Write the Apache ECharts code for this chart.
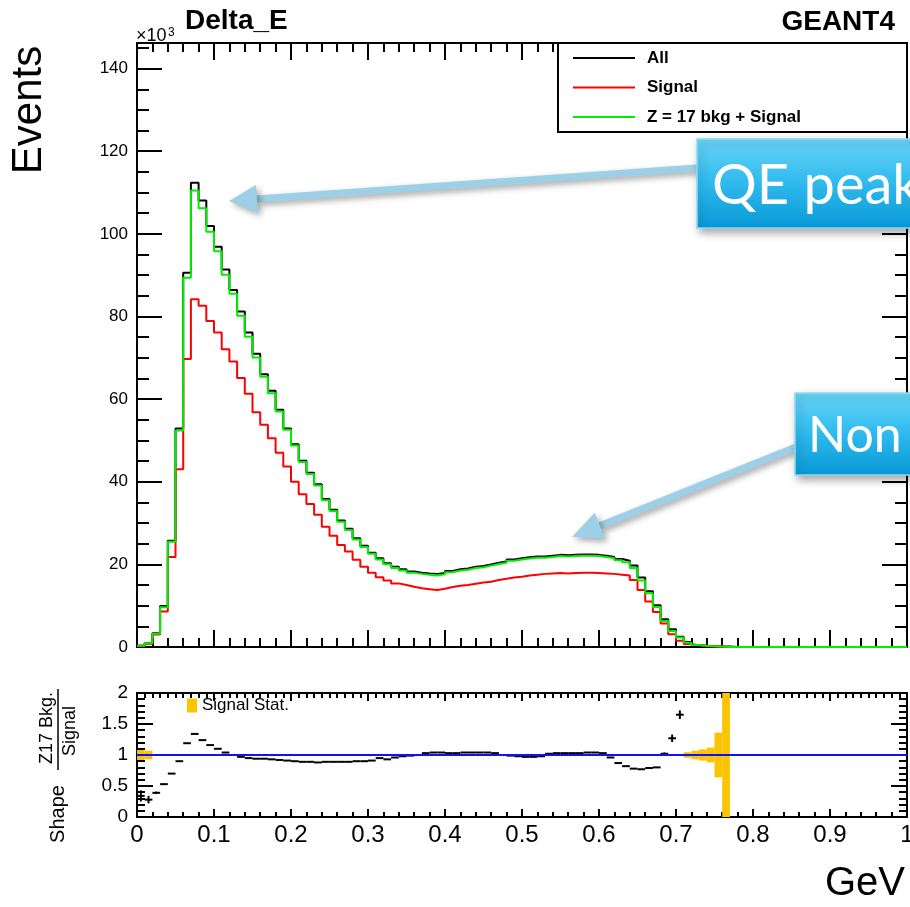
<!DOCTYPE html>
<html>
<head>
<meta charset="utf-8">
<script src="https://cdn.jsdelivr.net/npm/echarts@6/dist/echarts.min.js"></script>
<style>
    html, body {margin: 0; padding: 0; background: #fff;}
    #chart {width: 910px; height: 907px;}
</style>
</head>
<body>
<div id="chart"></div>
<script>
// Delta_E 直方图: 100 个 bin, 宽 0.01 GeV, 单位 10^3 events
const binWidth = 0.01;
const allEvents = [
    0.3, 0.9, 3.3, 9.9, 25.7, 52.9, 90.6, 112.4, 108.1, 101.9,
    96.9, 91.4, 86.4, 81.2, 76.1, 71.0, 66.0, 62.0, 57.4, 52.9,
    49.1, 45.1, 42.2, 39.4, 35.8, 33.2, 30.6, 28.6, 26.3, 24.5,
    22.8, 21.5, 20.3, 19.4, 18.8, 18.3, 18.0, 17.8, 17.7, 17.9,
    18.4, 18.8, 19.0, 19.4, 19.6, 20.0, 20.4, 20.7, 21.2, 21.5,
    21.7, 21.9, 21.9, 22.1, 22.3, 22.2, 22.3, 22.4, 22.4, 22.3,
    22.1, 21.8, 21.3, 20.9, 19.7, 16.8, 13.5, 10.1, 6.7, 4.3,
    2.5, 1.2, 0.5, 0.3, 0.2, 0.1, 0.1, 0, 0, 0,
    0, 0, 0, 0, 0, 0, 0, 0, 0, 0,
    0, 0, 0, 0, 0, 0, 0, 0, 0, 0
];
const signalEvents = [
    0.3, 0.8, 3.0, 8.6, 21.8, 43.0, 69.7, 84.2, 82.6, 78.9,
    76.1, 72.1, 69.1, 65.1, 61.3, 56.8, 53.8, 50.5, 47.0, 43.7,
    40.0, 37.0, 34.6, 32.0, 29.1, 26.9, 24.7, 23.1, 21.1, 19.4,
    18.0, 16.9, 16.1, 15.4, 15.0, 14.6, 14.2, 14.0, 13.8, 14.1,
    14.5, 14.8, 15.0, 15.3, 15.6, 15.8, 16.2, 16.5, 16.8, 17.0,
    17.3, 17.5, 17.7, 17.8, 17.9, 17.8, 17.9, 18.0, 18.0, 17.9,
    17.8, 17.7, 17.5, 17.3, 16.2, 13.8, 11.0, 8.5, 5.7, 3.1,
    1.5, 0.7, 0.4, 0.2, 0.1, 0, 0, 0, 0, 0,
    0, 0, 0, 0, 0, 0, 0, 0, 0, 0,
    0, 0, 0, 0, 0, 0, 0, 0, 0, 0
];
const z17PlusSignal = [
    0.3, 0.9, 3.2, 9.6, 25.5, 52.4, 89.4, 110.5, 106.2, 100.5,
    95.8, 90.1, 85.5, 80.2, 75.1, 70.1, 65.4, 61.4, 57.0, 52.6,
    48.8, 44.8, 41.9, 39.1, 35.5, 32.9, 30.3, 28.3, 26.0, 24.2,
    22.6, 21.2, 20.0, 19.1, 18.5, 18.0, 17.7, 17.5, 17.3, 17.6,
    18.1, 18.5, 18.7, 19.1, 19.3, 19.7, 20.1, 20.4, 20.9, 21.2,
    21.4, 21.6, 21.6, 21.8, 22.0, 21.9, 22.0, 22.1, 22.1, 22.0,
    21.8, 21.5, 21.0, 20.5, 19.1, 16.1, 13.0, 9.7, 6.3, 3.9,
    2.3, 1.0, 0.5, 0.3, 0.2, 0.1, 0, 0, 0, 0,
    0, 0, 0, 0, 0, 0, 0, 0, 0, 0,
    0, 0, 0, 0, 0, 0, 0, 0, 0, 0
];
// 下方面板: Shape Z17 Bkg./Signal (bin 0-70)
const shapeRatio = [
    0.34, 0.28, 0.39, 0.53, 0.70, 0.90, 1.19, 1.34, 1.24, 1.16,
    1.10, 1.04, 1.00, 0.97, 0.95, 0.94, 0.94, 0.93, 0.92, 0.91,
    0.90, 0.89, 0.89, 0.88, 0.89, 0.89, 0.89, 0.89, 0.90, 0.90,
    0.91, 0.95, 0.93, 0.96, 0.98, 0.99, 1.00, 1.03, 1.04, 1.04,
    1.03, 1.03, 1.04, 1.04, 1.04, 1.04, 1.03, 1.00, 0.99, 0.98,
    0.97, 0.97, 0.98, 1.02, 1.03, 1.03, 1.03, 1.03, 1.04, 1.04,
    1.03, 0.96, 0.87, 0.82, 0.78, 0.77, 0.79, 0.80, 1.02, 1.27,
    1.65
];
const shapeRatioErr = [
    0.09, 0.06, 0.02, 0, 0, 0, 0, 0, 0, 0,
    0, 0, 0, 0, 0, 0, 0, 0, 0, 0,
    0, 0, 0, 0, 0, 0, 0, 0, 0, 0,
    0, 0, 0, 0, 0, 0, 0, 0, 0, 0,
    0, 0, 0, 0, 0, 0, 0, 0, 0, 0,
    0, 0, 0, 0, 0, 0, 0, 0, 0, 0,
    0, 0, 0, 0, 0, 0, 0, 0, 0.02, 0.06,
    0.07
];
// Signal Stat. 相对误差 (围绕 1 的黄色带)
const signalStatErr = [
    0.08, 0.07, 0.01, 0.01, 0.005, 0.005, 0.005, 0.005, 0.005, 0.005,
    0.005, 0.005, 0.005, 0.005, 0.005, 0.005, 0.005, 0.005, 0.005, 0.005,
    0.005, 0.005, 0.005, 0.005, 0.005, 0.005, 0.005, 0.005, 0.005, 0.005,
    0.005, 0.005, 0.005, 0.005, 0.005, 0.005, 0.005, 0.005, 0.005, 0.005,
    0.005, 0.005, 0.005, 0.005, 0.005, 0.005, 0.005, 0.005, 0.005, 0.005,
    0.005, 0.005, 0.005, 0.005, 0.005, 0.005, 0.005, 0.005, 0.005, 0.005,
    0.005, 0.005, 0.005, 0.005, 0.005, 0.005, 0.005, 0.005, 0.005, 0.005,
    0.015, 0.045, 0.07, 0.09, 0.12, 0.36, 1.5, 0, 0, 0,
    0, 0, 0, 0, 0, 0, 0, 0, 0, 0,
    0, 0, 0, 0, 0, 0, 0, 0, 0, 0
];
const refLine = [[0, 1], [1, 1]];
const mainYMax = 146.2;

const FONT = '"Liberation Sans", Arial, Helvetica, sans-serif';
const binLow = allEvents.map((_, i) => +(i * binWidth).toFixed(2));

//直方图阶梯数据: bin 下沿 + 最后一个 bin 的上沿
const stepData = vals => vals.map((v, i) => [binLow[i], v]).concat([[1, vals[vals.length - 1]]]);

const chart = echarts.init(document.getElementById('chart'));

const tickStyle = {color: '#000', width: 2};
const hidden = {show: false};
const noLine = {show: false, onZero: false};

const mainX = (position) => ({
    type: 'value', gridIndex: 0, position, min: 0, max: 1, interval: 0.1,
    axisLine: noLine, splitLine: hidden, axisLabel: hidden,
    axisTick: {show: true, inside: true, length: 17, lineStyle: tickStyle},
    minorTick: {show: true, splitNumber: 5, length: 9, lineStyle: tickStyle}
});
const lowerX = (position, split, labels) => ({
    type: 'value', gridIndex: 1, position, min: 0, max: 1, interval: 0.1,
    axisLine: noLine, splitLine: hidden,
    axisLabel: labels ? {show: true, fontSize: 24, color: '#000', fontFamily: FONT, margin: 6,
        formatter: v => (v === 0 || v === 1) ? String(v) : v.toFixed(1)} : hidden,
    axisTick: {show: true, inside: true, length: 8, lineStyle: tickStyle},
    minorTick: {show: true, splitNumber: split, length: 5, lineStyle: tickStyle}
});
const mainY = (position, interval, len, labels) => ({
    type: 'value', gridIndex: 0, position, min: 0, max: mainYMax, interval,
    axisLine: noLine, splitLine: hidden,
    axisLabel: labels ? {show: true, fontSize: 17, color: '#000', fontFamily: FONT, margin: 9,
        formatter: v => v % 20 === 0 ? String(v) : ''} : hidden,
    axisTick: {show: true, inside: true, length: len, lineStyle: tickStyle}
});
const lowerY = (position, labels) => ({
    type: 'value', gridIndex: 1, position, min: 0, max: 2, interval: 0.5,
    axisLine: noLine, splitLine: hidden,
    axisLabel: labels ? {show: true, fontSize: 19, color: '#000', fontFamily: FONT, margin: 9} : hidden,
    axisTick: {show: true, inside: true, length: 16, lineStyle: tickStyle},
    minorTick: {show: true, splitNumber: 5, length: 8, lineStyle: tickStyle}
});

const histSeries = (name, vals, color) => ({
    name, type: 'line', step: 'end', xAxisIndex: 0, yAxisIndex: 0,
    data: stepData(vals), showSymbol: false, symbol: 'none', color,
    lineStyle: {color, width: 2}, silent: true
});

//箭头 (注释)
const arrow = (tail, tip, headLen, headHalf) => {
    const dx = tip[0] - tail[0], dy = tip[1] - tail[1];
    const len = Math.sqrt(dx * dx + dy * dy);
    const ux = dx / len, uy = dy / len;
    const bx = tip[0] - ux * headLen, by = tip[1] - uy * headLen;
    const shadow = {shadowBlur: 6, shadowColor: 'rgba(0,0,0,0.35)', shadowOffsetX: 3, shadowOffsetY: 3};
    return [
        {type: 'line', z: 20, shape: {x1: tail[0], y1: tail[1], x2: bx, y2: by},
            style: {stroke: '#9dd0e6', lineWidth: 7, ...shadow}},
        {type: 'polygon', z: 20, shape: {points: [tip, [bx - uy * headHalf, by + ux * headHalf], [bx + uy * headHalf, by - ux * headHalf]]},
            style: {fill: '#9dd0e6', ...shadow}}
    ];
};
const calloutBox = (x, y, w, h, text, tx, size) => [
    {type: 'rect', z: 21, shape: {x, y, width: w, height: h},
        style: {
            fill: new echarts.graphic.LinearGradient(0, 0, 0, 1, [
                {offset: 0, color: '#6ad5f7'}, {offset: 0.45, color: '#33bcef'}, {offset: 1, color: '#0799d6'}
            ]),
            stroke: '#8fd9f3', lineWidth: 1.5,
            shadowBlur: 8, shadowColor: 'rgba(0,0,0,0.35)', shadowOffsetX: 3, shadowOffsetY: 4
        }},
    {type: 'text', z: 22, x: tx, y: y + h / 2 + 2,
        style: {text, fill: '#fff', fontSize: size, fontFamily: 'Lato, "Open Sans", sans-serif',
            align: 'left', verticalAlign: 'middle', textAlign: 'left', textVerticalAlign: 'middle'}}
];
// y 为基线 (非旋转) 或中心 (旋转)
const txt = (x, y, text, size, opts = {}) => ({
    type: 'text', z: 30, x, y: opts.rotation ? y : y - 0.35 * size, rotation: opts.rotation || 0,
    style: {text, fill: '#000', fontSize: size, fontFamily: FONT, fontWeight: opts.bold ? 'bold' : 'normal',
        align: opts.align || 'left', verticalAlign: 'middle',
        textAlign: opts.align || 'left', textVerticalAlign: 'middle'}
});

const gridBase = {left: 137, right: 3, show: true, borderColor: '#000', borderWidth: 2,
    backgroundColor: 'transparent', containLabel: false, outerBoundsMode: 'none'};

const option = {
    animation: false,
    backgroundColor: '#fff',
    grid: [
        {...gridBase, top: 43, height: 604},
        {...gridBase, top: 693, height: 124}
    ],
    xAxis: [mainX('bottom'), mainX('top'), lowerX('bottom', 5, true), lowerX('top', 10, false)],
    yAxis: [
        mainY('left', 20, 25, true), mainY('left', 5, 12, false),
        mainY('right', 20, 25, false), mainY('right', 5, 12, false),
        lowerY('left', true), lowerY('right', false)
    ],
    legend: [
        {
            data: ['All', 'Signal', 'Z = 17 bkg + Signal'], orient: 'vertical', left: 573, top: 49, padding: 0,
            itemWidth: 62, itemHeight: 2, itemGap: 11.5, icon: 'rect', selectedMode: false, z: 31,
            textStyle: {fontSize: 17, fontWeight: 'bold', color: '#000', fontFamily: FONT, lineHeight: 18, padding: [0, 0, 0, 7]}
        },
        {
            data: ['Signal Stat.'], left: 187, top: 697, padding: 0, itemWidth: 10, itemHeight: 14, icon: 'rect',
            selectedMode: false, textStyle: {fontSize: 17, color: '#000', fontFamily: FONT}
        }
    ],
    series: [
        histSeries('All', allEvents, '#000000'),
        histSeries('Signal', signalEvents, '#ff0000'),
        histSeries('Z = 17 bkg + Signal', z17PlusSignal, '#00ee00'),
        {
            name: 'Signal Stat.', type: 'custom', xAxisIndex: 2, yAxisIndex: 4, color: '#fcc400',
            data: signalStatErr.map((e, i) => [binLow[i], e]), encode: {x: 0, y: 1}, silent: true,
            renderItem: (params, api) => {
                const e = api.value(1);
                if (!e) return null;
                const x0 = api.value(0);
                const p0 = api.coord([x0, Math.min(2, 1 + e)]);
                const p1 = api.coord([x0 + binWidth, Math.max(0, 1 - e)]);
                return {type: 'rect', shape: {x: p0[0], y: p0[1], width: p1[0] - p0[0], height: p1[1] - p0[1]},
                    style: {fill: '#fcc400'}};
            }
        },
        {
            type: 'line', xAxisIndex: 2, yAxisIndex: 4, data: refLine, showSymbol: false, symbol: 'none',
            lineStyle: {color: '#1010ff', width: 2}, silent: true
        },
        {
            name: 'ratio', type: 'custom', xAxisIndex: 2, yAxisIndex: 4, silent: true,
            data: shapeRatio.map((r, i) => [binLow[i], r, shapeRatioErr[i]]), encode: {x: 0, y: 1},
            renderItem: (params, api) => {
                const x0 = api.value(0), r = api.value(1), e = api.value(2);
                const p0 = api.coord([x0, r]);
                const p1 = api.coord([x0 + binWidth, r]);
                const st = {stroke: '#000', lineWidth: 2};
                const children = [{type: 'line', shape: {x1: p0[0], y1: p0[1], x2: p1[0], y2: p1[1]}, style: st}];
                if (e > 0) {
                    const xc = (p0[0] + p1[0]) / 2;
                    const top = api.coord([x0, r + e]), bot = api.coord([x0, r - e]);
                    children.push({type: 'line', shape: {x1: xc, y1: top[1], x2: xc, y2: bot[1]}, style: st});
                }
                return {type: 'group', children};
            }
        }
    ],
    graphic: [
        //图例边框
        {type: 'rect', z: 29, shape: {x: 558, y: 43, width: 349, height: 89}, style: {fill: '#fff', stroke: '#000', lineWidth: 2}},
        txt(136, 42, '×10', 18),
        txt(168, 37, '3', 12),
        txt(185, 31, 'Delta_E', 28, {bold: true}),
        txt(895, 32, 'GEANT4', 28, {bold: true, align: 'right'}),
        txt(29, 110, 'Events', 42, {rotation: Math.PI / 2, align: 'center'}),
        txt(905, 898, 'GeV', 40, {align: 'right'}),
        txt(58, 814, 'Shape', 20, {rotation: Math.PI / 2, align: 'center'}),
        txt(47, 728, 'Z17 Bkg.', 18, {rotation: Math.PI / 2, align: 'center'}),
        {type: 'line', z: 30, shape: {x1: 58, y1: 689, x2: 58, y2: 770}, style: {stroke: '#000', lineWidth: 1.5}},
        txt(70, 731, 'Signal', 18, {rotation: Math.PI / 2, align: 'center'}),
        ...arrow([697, 168], [229, 201], 28, 14),
        ...calloutBox(697, 139, 260, 89, 'QE peak', 712, 56),
        ...arrow([796, 447], [572, 537], 30, 14),
        ...calloutBox(795, 393, 160, 82, 'Non', 808, 50)
    ]
};

chart.setOption(option);
</script>
</body>
</html>
